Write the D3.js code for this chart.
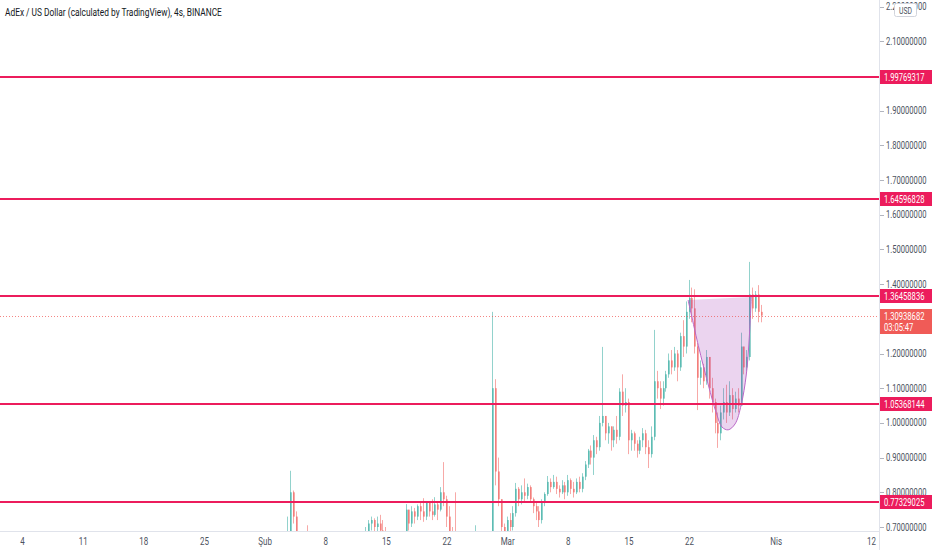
<!DOCTYPE html>
<html>
<head>
<meta charset="utf-8">
<script src="https://cdn.jsdelivr.net/npm/d3@7/dist/d3.min.js"></script>
<style>
html, body { margin: 0; padding: 0; background: #fff; }
svg { display: block; font-family: Roboto, "Liberation Sans", sans-serif; }
</style>
</head>
<body>
<svg id="chart" width="932" height="550"></svg>
<script>
var title = "AdEx / US Dollar (calculated by TradingView), 4s, BINANCE";

// 8h bars from 3 Feb 2021, open = previous close
var firstBar = Date.UTC(2021, 1, 3);
var barHours = 8;
var firstOpen = 0.57;
var closes = [
    0.58, 0.62, 0.68, 0.80, 0.73, 0.66, 0.64, 0.62, 0.63, 0.62,
    0.61, 0.60, 0.61, 0.60, 0.59, 0.60, 0.61, 0.60, 0.59, 0.60,
    0.61, 0.62, 0.61, 0.62, 0.63, 0.62, 0.63, 0.64, 0.65, 0.68,
    0.71, 0.72, 0.70, 0.71, 0.69, 0.67, 0.65, 0.64, 0.63, 0.64,
    0.65, 0.64, 0.66, 0.75, 0.71, 0.745, 0.73, 0.76, 0.745, 0.73,
    0.77, 0.745, 0.735, 0.765, 0.75, 0.80, 0.78, 0.73, 0.68, 0.66,
    0.62, 0.64, 0.63, 0.65, 0.64, 0.63, 0.64, 0.67, 0.65, 0.64,
    0.65, 0.64, 0.66, 1.10, 0.86, 0.78, 0.70, 0.68, 0.72, 0.70,
    0.74, 0.81, 0.78, 0.80, 0.79, 0.815, 0.78, 0.76, 0.745, 0.72,
    0.77, 0.795, 0.83, 0.815, 0.83, 0.81, 0.80, 0.82, 0.80, 0.835,
    0.81, 0.80, 0.83, 0.81, 0.845, 0.88, 0.92, 0.90, 0.95, 0.93,
    1.00, 1.02, 0.97, 0.99, 0.95, 0.98, 0.96, 1.09, 1.05, 1.06,
    0.95, 0.97, 0.94, 0.92, 0.95, 0.97, 0.93, 0.91, 0.96, 1.12,
    1.10, 1.07, 1.10, 1.14, 1.18, 1.16, 1.20, 1.16, 1.25, 1.22,
    1.32, 1.36, 1.33, 1.22, 1.13, 1.16, 1.12, 1.19, 1.10, 1.06,
    1.00, 0.97, 1.03, 1.06, 1.03, 1.08, 1.04, 1.07, 1.05, 1.22,
    1.16, 1.19, 1.37, 1.33, 1.37, 1.32, 1.30938682
];
var highs = [
    0.60, 0.65, 0.73, 0.862, 0.805, 0.745, 0.68, 0.66, 0.65, 0.705,
    0.64, 0.63, 0.63, 0.62, 0.61, 0.62, 0.63, 0.62, 0.61, 0.62,
    0.63, 0.64, 0.63, 0.64, 0.65, 0.64, 0.66, 0.66, 0.67, 0.70,
    0.72, 0.73, 0.725, 0.73, 0.735, 0.72, 0.70, 0.67, 0.66, 0.66,
    0.67, 0.66, 0.68, 0.766, 0.75, 0.76, 0.755, 0.765, 0.77, 0.783,
    0.775, 0.775, 0.78, 0.786, 0.77, 0.815, 0.887, 0.79, 0.76, 0.70,
    0.80, 0.66, 0.66, 0.67, 0.66, 0.65, 0.66, 0.705, 0.68, 0.66,
    0.67, 0.66, 0.68, 1.32, 1.126, 0.90, 0.78, 0.71, 0.73, 0.74,
    0.76, 0.827, 0.815, 0.82, 0.84, 0.825, 0.82, 0.785, 0.77, 0.76,
    0.78, 0.80, 0.847, 0.84, 0.85, 0.845, 0.82, 0.835, 0.83, 0.85,
    0.84, 0.83, 0.84, 0.845, 0.855, 0.89, 0.925, 0.935, 0.965, 0.96,
    1.02, 1.219, 1.01, 1.00, 0.99, 0.99, 1.02, 1.10, 1.14, 1.10,
    1.07, 0.98, 0.975, 0.95, 0.96, 0.985, 0.98, 0.95, 0.99, 1.268,
    1.15, 1.12, 1.12, 1.15, 1.20, 1.21, 1.219, 1.21, 1.26, 1.296,
    1.35, 1.412, 1.39, 1.385, 1.23, 1.18, 1.17, 1.21, 1.19, 1.13,
    1.07, 1.03, 1.05, 1.10, 1.11, 1.12, 1.10, 1.09, 1.10, 1.26,
    1.22, 1.21, 1.464, 1.39, 1.38, 1.397, 1.34
];
var lows = [
    0.55, 0.57, 0.61, 0.66, 0.71, 0.62, 0.61, 0.60, 0.60, 0.60,
    0.59, 0.58, 0.59, 0.58, 0.57, 0.58, 0.59, 0.58, 0.57, 0.58,
    0.59, 0.60, 0.59, 0.60, 0.61, 0.60, 0.61, 0.62, 0.63, 0.64,
    0.66, 0.69, 0.68, 0.68, 0.67, 0.65, 0.63, 0.62, 0.61, 0.62,
    0.63, 0.62, 0.62, 0.65, 0.69, 0.70, 0.71, 0.72, 0.72, 0.715,
    0.72, 0.73, 0.72, 0.73, 0.72, 0.745, 0.76, 0.70, 0.65, 0.62,
    0.60, 0.61, 0.61, 0.62, 0.62, 0.61, 0.62, 0.63, 0.63, 0.62,
    0.63, 0.62, 0.63, 0.64, 0.82, 0.76, 0.66, 0.65, 0.67, 0.68,
    0.69, 0.73, 0.76, 0.765, 0.77, 0.78, 0.77, 0.74, 0.72, 0.70,
    0.71, 0.76, 0.79, 0.80, 0.81, 0.795, 0.785, 0.795, 0.78, 0.79,
    0.795, 0.785, 0.795, 0.80, 0.80, 0.835, 0.87, 0.88, 0.85, 0.91,
    0.92, 0.99, 0.95, 0.94, 0.92, 0.93, 0.94, 0.95, 1.02, 1.03,
    0.91, 0.92, 0.92, 0.90, 0.91, 0.93, 0.91, 0.87, 0.90, 0.95,
    1.07, 1.04, 1.05, 1.09, 1.13, 1.14, 1.15, 1.12, 1.15, 1.19,
    1.20, 1.30, 1.29, 1.20, 1.037, 1.11, 1.10, 1.11, 1.07, 1.03,
    0.97, 0.928, 0.95, 1.01, 1.00, 1.02, 1.01, 1.03, 1.03, 1.05,
    1.14, 1.15, 1.18, 1.30, 1.32, 1.29, 1.29
];

var levels = [1.99769317, 1.64596828, 1.36458836, 1.05368144, 0.77329025];
var lastPrice = 1.30938682;
var countdown = "03:05:47";

var priceTicks = [2.2, 2.1, 1.9, 1.8, 1.7, 1.6, 1.5, 1.4, 1.2, 1.1, 1.0, 0.9, 0.8, 0.7];
var timeTicks = ["2021-01-04", "2021-01-11", "2021-01-18", "2021-01-25", "2021-02-01", "2021-02-08", "2021-02-15",
    "2021-02-22", "2021-03-01", "2021-03-08", "2021-03-15", "2021-03-22", "2021-04-01", "2021-04-12"];
var timeLabels = ["4", "11", "18", "25", "Şub", "8", "15", "22", "Mar", "8", "15", "22", "Nis", "12"];

// cup drawing, points along the curve
var cupTimes = ["2021-03-21T20:00", "2021-03-23T00:00", "2021-03-24T04:00", "2021-03-25T02:00", "2021-03-25T18:00",
    "2021-03-26T11:00", "2021-03-27T06:00", "2021-03-27T23:00", "2021-03-28T13:00", "2021-03-28T21:00", "2021-03-29T03:00"];
var cupPrices = [1.354, 1.224, 1.109, 1.029, 0.988, 0.980, 0.997, 1.052, 1.138, 1.239, 1.363];

var upColor = "#26a69a", downColor = "#ef5350", levelColor = "#ec1c5c";
var plotRight = 879, plotBottom = 531;
var textScale = 0.76;

var svg = d3.select("#chart");
var x = d3.scaleUtc()
    .domain([new Date(Date.UTC(2021, 0, 4)), new Date(Date.UTC(2021, 3, 12))])
    .range([22.5, 871.5]);
var y = d3.scaleLinear()
    .domain([0.7, 2.2])
    .range([527, 6.5]);

function squeeze(sel, px, py) {
    return sel.attr("transform", "translate(" + px + "," + py + ") scale(" + textScale + ",1)");
}

var bars = closes.map(function (c, i) {
    return {
        t: new Date(firstBar + i * barHours * 3600000),
        o: i ? closes[i - 1] : firstOpen,
        h: highs[i], l: lows[i], c: c
    };
});

svg.append("defs").append("clipPath").attr("id", "plot")
    .append("rect").attr("width", plotRight).attr("height", plotBottom);
svg.append("defs").append("clipPath").attr("id", "axis")
    .append("rect").attr("x", plotRight).attr("width", 932 - plotRight).attr("height", plotBottom);

var plot = svg.append("g").attr("clip-path", "url(#plot)");

var candle = plot.append("g")
    .selectAll("g")
    .data(bars)
    .enter().append("g")
    .attr("fill", function (d) { return d.c >= d.o ? upColor : downColor; })
    .attr("fill-opacity", 0.5);
candle.append("rect")
    .attr("x", function (d) { return Math.round(x(d.t)) - 1; })
    .attr("width", 1)
    .attr("y", function (d) { return y(Math.max(d.h, d.o, d.c)); })
    .attr("height", function (d) { return y(Math.min(d.l, d.o, d.c)) - y(Math.max(d.h, d.o, d.c)); });
candle.append("rect")
    .attr("x", function (d) { return Math.round(x(d.t)) - 1; })
    .attr("width", 2)
    .attr("y", function (d) { return y(Math.max(d.o, d.c)); })
    .attr("height", function (d) { return Math.max(1, y(Math.min(d.o, d.c)) - y(Math.max(d.o, d.c))); });

var cupPoints = cupTimes.map(function (t, i) { return [x(new Date(t + "Z")), y(cupPrices[i])]; });
var cupLine = d3.line().curve(d3.curveCatmullRom);
plot.append("path")
    .attr("d", cupLine(cupPoints) + "Z")
    .attr("fill", "#9c27b0")
    .attr("fill-opacity", 0.2);
plot.append("path")
    .attr("d", cupLine(cupPoints))
    .attr("fill", "none")
    .attr("stroke", "#ba68c8")
    .attr("stroke-width", 1);

plot.append("line")
    .attr("x1", 0).attr("x2", plotRight)
    .attr("y1", Math.round(y(lastPrice)) + 0.5).attr("y2", Math.round(y(lastPrice)) + 0.5)
    .attr("stroke", downColor)
    .attr("stroke-opacity", 0.7)
    .attr("stroke-dasharray", "1,2");

plot.append("g")
    .selectAll("line")
    .data(levels)
    .enter().append("line")
    .attr("x1", 0).attr("x2", plotRight)
    .attr("y1", function (d) { return Math.round(y(d)); })
    .attr("y2", function (d) { return Math.round(y(d)); })
    .attr("stroke", levelColor)
    .attr("stroke-width", 2);

// price axis
var axis = svg.append("g").attr("clip-path", "url(#axis)")
    .attr("font-size", 10)
    .attr("fill", "#4c525e");
var tick = axis.selectAll("g.tick")
    .data(priceTicks)
    .enter().append("g")
    .attr("class", "tick");
tick.append("line")
    .attr("x1", plotRight + 1).attr("x2", plotRight + 5)
    .attr("y1", function (d) { return Math.round(y(d)) + 0.5; })
    .attr("y2", function (d) { return Math.round(y(d)) + 0.5; })
    .attr("stroke", "#b2b5be");
tick.append("text")
    .attr("dy", "0.35em")
    .each(function (d) { squeeze(d3.select(this), plotRight + 7, y(d)); })
    .text(function (d) { return d.toFixed(8); });

var levelLabel = axis.selectAll("g.level")
    .data(levels)
    .enter().append("g")
    .attr("class", "level");
levelLabel.append("rect")
    .attr("x", plotRight + 1).attr("width", 52)
    .attr("y", function (d) { return Math.round(y(d)) - 7; })
    .attr("height", 14)
    .attr("fill", levelColor);
levelLabel.append("text")
    .attr("dy", "0.35em")
    .attr("fill", "#fff")
    .each(function (d) { squeeze(d3.select(this), plotRight + 5, Math.round(y(d))); })
    .text(function (d) { return d.toFixed(8); });

var lastY = Math.round(y(lastPrice));
axis.append("rect")
    .attr("x", plotRight + 1).attr("width", 52)
    .attr("y", lastY - 7).attr("height", 25)
    .attr("fill", "#f05b57");
squeeze(axis.append("text"), plotRight + 5, lastY)
    .attr("dy", "0.35em").attr("fill", "#fff")
    .text(lastPrice.toFixed(8));
squeeze(axis.append("text"), plotRight + 5, lastY + 11)
    .attr("dy", "0.35em").attr("fill", "#fff")
    .text(countdown);

var badge = svg.append("g");
badge.append("rect")
    .attr("x", 894.5).attr("y", 3.5).attr("width", 22).attr("height", 13).attr("rx", 2)
    .attr("fill", "#fff").attr("stroke", "#d1d4dc");
squeeze(badge.append("text"), 905.5, 10.5)
    .attr("dy", "0.35em").attr("text-anchor", "middle")
    .attr("font-size", 9).attr("fill", "#4c525e")
    .text("USD");

// time axis
svg.append("g")
    .attr("font-size", 10.5)
    .attr("fill", "#4c525e")
    .attr("text-anchor", "middle")
    .selectAll("text")
    .data(timeTicks)
    .enter().append("text")
    .attr("dy", "0.35em")
    .each(function (d) { squeeze(d3.select(this), x(new Date(d + "T00:00Z")), 541); })
    .text(function (d, i) { return timeLabels[i]; });

svg.append("line")
    .attr("x1", plotRight + 0.5).attr("x2", plotRight + 0.5)
    .attr("y1", 0).attr("y2", 550)
    .attr("stroke", "#e0e3eb");
svg.append("line")
    .attr("x1", 0).attr("x2", plotRight)
    .attr("y1", plotBottom + 0.5).attr("y2", plotBottom + 0.5)
    .attr("stroke", "#e0e3eb");

squeeze(svg.append("text"), 5, 12)
    .attr("dy", "0.35em")
    .attr("font-size", 11)
    .attr("fill", "#131722")
    .text(title);
</script>
</body>
</html>
